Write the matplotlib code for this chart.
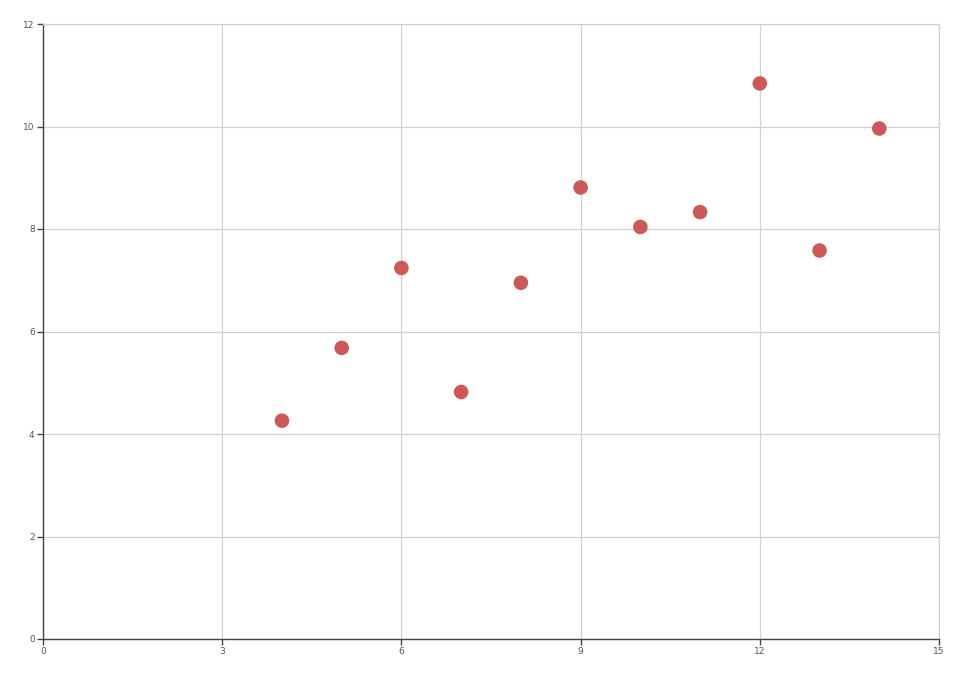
import matplotlib
matplotlib.use("Agg")
import matplotlib.pyplot as plt

# Anscombe set I
x_vals = [10.0, 8.0, 13.0, 9.0, 11.0, 14.0, 6.0, 4.0, 12.0, 7.0, 5.0]
y_vals = [8.04, 6.95, 7.58, 8.81, 8.33, 9.96, 7.24, 4.26, 10.84, 4.82, 5.68]
x_ticks = [0, 3, 6, 9, 12, 15]
y_ticks = [0, 2, 4, 6, 8, 10, 12]

fig = plt.figure(figsize=(9.8, 6.75), dpi=100)
ax = fig.add_axes([43/980, 1 - 639/675, (939-43)/980, (639-24)/675])

ax.scatter(x_vals, y_vals, s=110, color="#cd5855", edgecolors="none", zorder=3)

ax.set_xlim(0, 15)
ax.set_ylim(0, 12)
ax.set_xticks(x_ticks)
ax.set_yticks(y_ticks)
ax.grid(True, color="#d0d0d0", linewidth=0.9)
ax.set_axisbelow(True)

for side in ["top", "right"]:
    ax.spines[side].set_color("#d0d0d0")
    ax.spines[side].set_linewidth(0.9)
for side in ["left", "bottom"]:
    ax.spines[side].set_color("#444444")
    ax.spines[side].set_linewidth(1.0)

ax.tick_params(axis="both", length=4, width=1, color="#444444",
               labelsize=6.5, labelcolor="#555555", pad=2)

fig.savefig("out.png", dpi=100)
